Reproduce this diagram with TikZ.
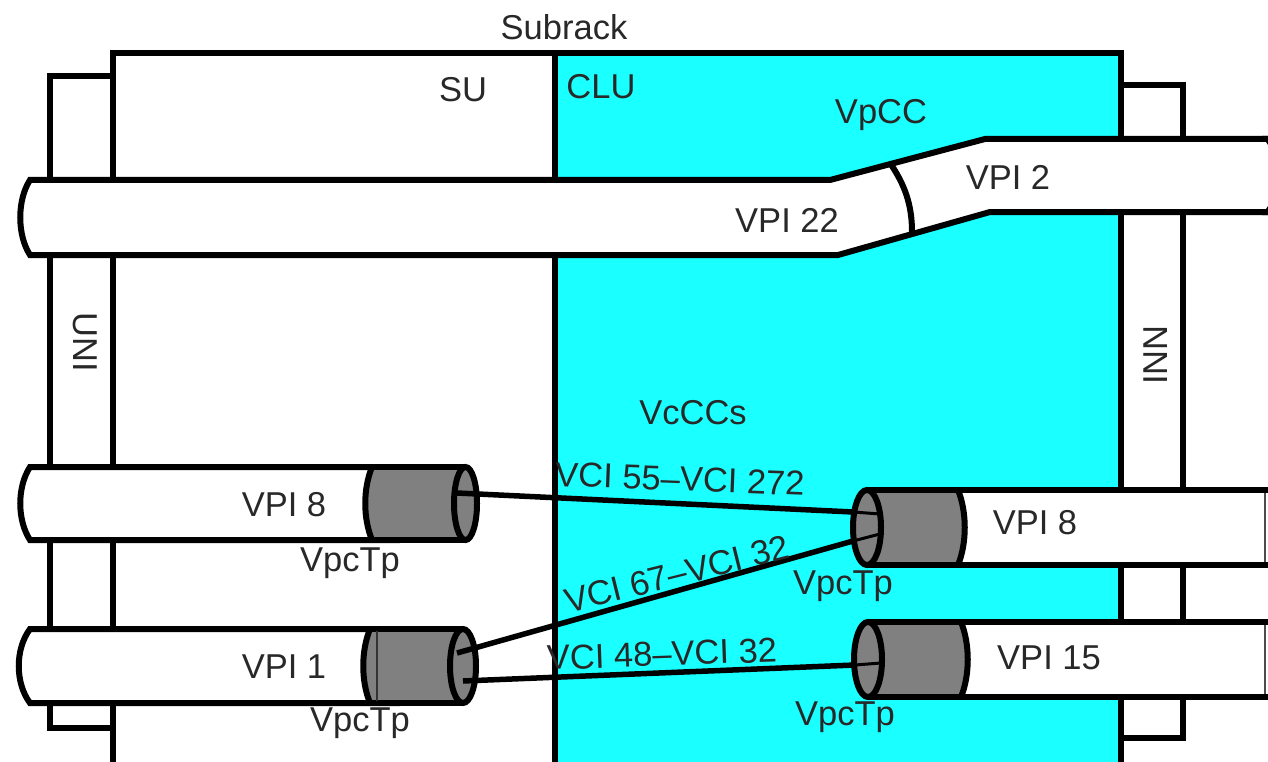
\documentclass[tikz,border=0pt]{standalone}
\usepackage{fontspec}
\setmainfont{Liberation Sans}
\definecolor{clu}{RGB}{26,255,255}
\definecolor{txt}{RGB}{40,40,40}
\definecolor{cyl}{RGB}{128,128,128}
\tikzset{
  outline/.style={draw=black,line width=6pt,line join=miter},
  lbl/.style={inner sep=0pt,text=txt,font=\fontsize{34.5}{34.5}\selectfont},
  link/.style={draw=black,line width=5.5pt},
  thinlink/.style={draw=black,line width=3pt},
}
\newcommand{\leftcyl}[6]{%
  \fill[cyl] (#6+8,#3-#4) .. controls (#6-1,#3-#4+22) and (#6-1,#3+#4-22) .. (#6+8,#3+#4) -- (#2,#3+#4) -- (#2,#3-#4) -- cycle;
  \draw[outline] (#6+8,#3-#4) .. controls (#6-1,#3-#4+22) and (#6-1,#3+#4-22) .. (#6+8,#3+#4);
  \draw[outline,fill=cyl] (#2,#3) ellipse [x radius=#5,y radius=#4];
  \draw[outline] (#6+8,#3-#4) -- (#2,#3-#4);
  \draw[outline] (#6+8,#3+#4) -- (#2,#3+#4);
  \coordinate (#1) at (#2,#3);
}
\newcommand{\rightcyl}[6]{%
  \fill[cyl] (#6-8,#3-#4) .. controls (#6+1,#3-#4+22) and (#6+1,#3+#4-22) .. (#6-8,#3+#4) -- (#2,#3+#4) -- (#2,#3-#4) -- cycle;
  \draw[outline] (#6-8,#3-#4) .. controls (#6+1,#3-#4+22) and (#6+1,#3+#4-22) .. (#6-8,#3+#4);
  \draw[outline,fill=cyl] (#2,#3) ellipse [x radius=#5,y radius=#4];
  \draw[outline] (#6-8,#3-#4) -- (#2,#3-#4);
  \draw[outline] (#6-8,#3+#4) -- (#2,#3+#4);
  \coordinate (#1) at (#2,#3);
}
\begin{document}
\begin{tikzpicture}[x=1pt,y=-1pt]
\useasboundingbox (0,0) rectangle (1268,762);
\fill[white] (0,0) rectangle (1268,762);
% side boxes
\draw[outline] (113,76) -- (50,76) -- (50,728) -- (113,728);
\draw[outline] (1121,85) -- (1183,85) -- (1183,738) -- (1121,738);
% subrack
\fill[clu] (555,53) rectangle (1121,765);
\draw[outline] (113,53) rectangle (1121,765);
\draw[outline] (555,53) -- (555,765);
% upper tube
\draw[outline,fill=white] (1272,139) -- (985,139) -- (830,180) -- (30,180)
  .. controls (17,200) and (17,235) .. (30,255) -- (838,255) -- (990,212) -- (1272,212);
\fill[black] (1262,136) -- (1268,136) -- (1268,145) -- cycle;
\fill[black] (1262,215) -- (1268,215) -- (1268,206) -- cycle;
\draw[outline] (890,163) .. controls (905,185) and (912,205) .. (912,232);
% left tubes
\draw[outline,fill=white] (400,467) -- (30,467) .. controls (17,487) and (17,520) .. (30,540) -- (400,540);
\draw[outline,fill=white] (400,629) -- (30,629) .. controls (15,649) and (15,683) .. (30,703) -- (400,703);
% right tubes
\fill[white] (900,490) rectangle (1268,565);
\fill[white] (900,622) rectangle (1268,697);
\draw[outline] (900,490) -- (1272,490);
\draw[outline] (900,565) -- (1272,565);
\draw[outline] (900,622) -- (1272,622);
\draw[outline] (900,697) -- (1272,697);
\draw[line width=1.2pt,draw=black!70] (1265,493) -- (1265,562);
\draw[line width=1.2pt,draw=black!70] (1265,625) -- (1265,694);
% cylinders
\leftcyl{ca}{465.5}{503.5}{36.5}{11.5}{364}
\leftcyl{cb}{463}{666}{37}{13}{362}
\draw[line width=1.5pt,draw=black!80] (377,631) -- (377,701);
\rightcyl{cc}{867}{527.5}{37.5}{14}{966}
\rightcyl{cd}{868}{659.5}{37.5}{14}{969}
% connector ends
\coordinate (a1) at (457,493);
\coordinate (a2) at (853,512);
\coordinate (a3) at (880,514);
\coordinate (b1) at (457,653);
\coordinate (b2) at (853,541);
\coordinate (b3) at (880,534);
\coordinate (c1) at (463,681);
\coordinate (c2) at (855,665);
\coordinate (c3) at (881,663);
\draw[link] (a1) -- (a2);
\draw[thinlink] (a2) -- (a3);
\draw[link] (b1) -- (b2);
\draw[thinlink] (b2) -- (b3);
\draw[link] (c1) -- (c2);
\draw[thinlink] (c2) -- (c3);
% labels
\node[lbl] (subrack) at (564,27) {Subrack};
\node[lbl] (su) at (463,90) {SU};
\node[lbl] (clu) at (601,87) {CLU};
\node[lbl] (vpcc) at (881,115) {VpCC};
\node[lbl] (vpi2) at (1008,177) {VPI 2};
\node[lbl] (vpi22) at (787,220) {VPI 22};
\node[lbl,rotate=-90] (uni) at (85,342) {UNI};
\node[lbl,rotate=90] (inn) at (1156,355) {INN};
\node[lbl] (vccs) at (693,413) {VcCCs};
\node[lbl] (vpi8l) at (284,505) {VPI 8};
\node[lbl] (vpi1) at (284,667) {VPI 1};
\node[lbl] (tp1) at (350,563) {VpcTp};
\node[lbl] (tp2) at (360,723) {VpcTp};
\node[lbl] (vpi8r) at (1035,523) {VPI 8};
\node[lbl] (vpi15) at (1049,658) {VPI 15};
\node[lbl] (tp3) at (843,586) {VpcTp};
\node[lbl] (tp4) at (845,717) {VpcTp};
\node[lbl,rotate=-2.2] (v55) at (680,479) {VCI 55--VCI 272};
\node[lbl,rotate=14] (v67) at (677,574) {VCI 67--VCI 32};
\node[lbl,rotate=2] (v48) at (662,654) {VCI 48--VCI 32};
\end{tikzpicture}
\end{document}
